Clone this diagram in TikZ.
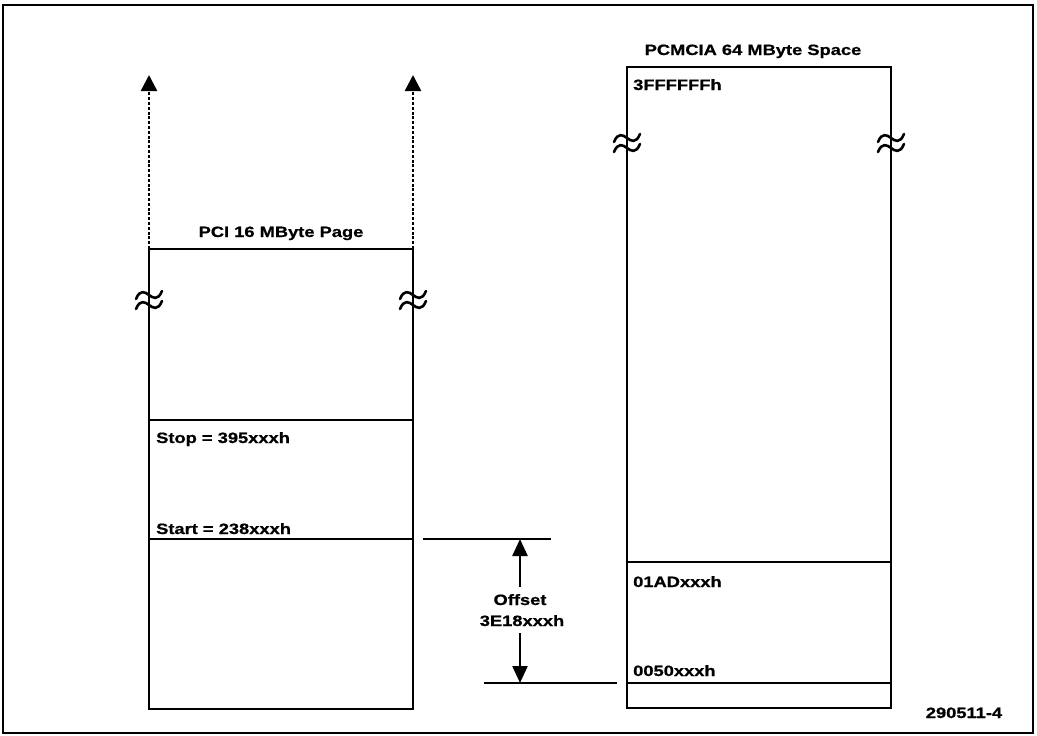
\documentclass[tikz,border=0pt]{standalone}
\usepackage{fontspec}
\newfontfamily\lbl{Liberation Sans}[FakeStretch=1.22, BoldFont=* Bold, BoldFeatures={FakeBold=0.8}]
\usetikzlibrary{arrows.meta}
\tikzset{
  boxline/.style={line width=2.8pt},
  divline/.style={line width=2.4pt},
  lab/.style={inner sep=0pt, font=\lbl\bfseries\fontsize{15}{17}\selectfont},
  dotarrow/.style={line width=2.4pt, dash pattern=on 3pt off 1.8pt, -{Triangle[length=16pt,width=16pt]}},
  offarrow/.style={line width=2.4pt, -{Triangle[length=17pt,width=15pt]}},
  brk/.style={line width=2.6pt, line cap=round}
}
\newcommand{\breakmark}[2]{%
  \draw[brk] (#1-13,#2-1) .. controls (#1-9,#2-11) and (#1-4,#2-8) .. (#1,#2-5) .. controls (#1+4,#2-2) and (#1+9,#2+1) .. (#1+13,#2-9);
  \draw[brk] (#1-13,#2+9) .. controls (#1-9,#2-1) and (#1-4,#2+2) .. (#1,#2+5) .. controls (#1+4,#2+8) and (#1+9,#2+11) .. (#1+13,#2+1);
}
\begin{document}
\begin{tikzpicture}[x=1pt,y=-1pt]
\useasboundingbox (0,0) rectangle (1037,736);
% outer frame
\draw[line width=1.6pt] (3,5) rectangle (1033,733);

% left box
\coordinate (ltl) at (149,249);
\coordinate (ltr) at (413,249);
\coordinate (lbl) at (149,709);
\coordinate (lbr) at (413,709);
\draw[boxline] (ltl) rectangle (lbr);
\coordinate (lstopL) at (149,420); \coordinate (lstopR) at (413,420);
\coordinate (lstartL) at (149,539); \coordinate (lstartR) at (413,539);
\draw[divline] (lstopL) -- (lstopR);
\draw[divline] (lstartL) -- (lstartR);
\coordinate (ltipL) at (149,75);
\coordinate (ltipR) at (413,75);
\draw[dotarrow] (ltl) -- (ltipL);
\draw[dotarrow] (ltr) -- (ltipR);
\node[lab, anchor=base] (pcititle) at (281,237) {PCI 16 MByte Page};
\node[lab, anchor=base west] (stop) at (156,443) {Stop = 395xxxh};
\node[lab, anchor=base west] (start) at (156,534) {Start = 238xxxh};
\breakmark{149}{300}
\breakmark{413}{300}

% offset
\coordinate (otl) at (423,539); \coordinate (otr) at (551,539);
\coordinate (obl) at (484,683); \coordinate (obr) at (617,683);
\draw[divline] (otl) -- (otr);
\draw[divline] (obl) -- (obr);
\coordinate (oa1) at (520,587); \coordinate (oa1t) at (520,539);
\coordinate (oa2) at (520,633); \coordinate (oa2t) at (520,683);
\draw[offarrow] (oa1) -- (oa1t);
\draw[offarrow] (oa2) -- (oa2t);
\node[lab, anchor=base] (offset) at (520,605) {Offset};
\node[lab, anchor=base] (offval) at (522,626) {3E18xxxh};

% right box
\coordinate (rtl) at (627,67);
\coordinate (rbr) at (891,708);
\draw[boxline] (rtl) rectangle (rbr);
\coordinate (r1L) at (627,562); \coordinate (r1R) at (891,562);
\coordinate (r2L) at (627,683); \coordinate (r2R) at (891,683);
\draw[divline] (r1L) -- (r1R);
\draw[divline] (r2L) -- (r2R);
\node[lab, anchor=base] (pcmtitle) at (753,55) {PCMCIA 64 MByte Space};
\node[lab, anchor=base west] (top) at (633,90) {3FFFFFFh};
\node[lab, anchor=base west] (a01) at (633,587) {01ADxxxh};
\node[lab, anchor=base west] (a00) at (633,676) {0050xxxh};
\breakmark{627}{143}
\breakmark{891}{143}

\node[lab, anchor=base] (fig) at (964,718) {290511-4};
\end{tikzpicture}
\end{document}
